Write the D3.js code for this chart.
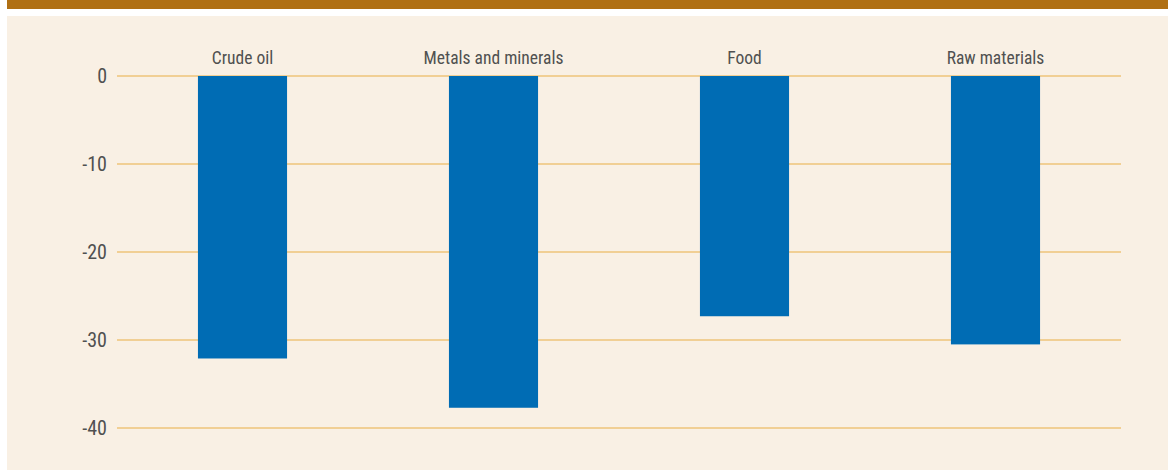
<!DOCTYPE html>
<html>
<head>
<meta charset="utf-8">
<script src="https://cdn.jsdelivr.net/npm/d3@7"></script>
<style>
  html, body { margin: 0; padding: 0; background: #ffffff; }
  svg { display: block; }
  text { font-family: "Liberation Sans Narrow", "Roboto Condensed", "Liberation Sans", sans-serif; fill: #505050; }
</style>
</head>
<body>
<script>
// Price change by commodity group, percent
const categories = ["Crude oil", "Metals and minerals", "Food", "Raw materials"];
const values = [-32.1, -37.7, -27.3, -30.5];
const tickValues = [0, -10, -20, -30, -40];
const tickLabels = ["0", "-10", "-20", "-30", "-40"];

const W = 1168, H = 470;
const svg = d3.select("body").append("svg").attr("width", W).attr("height", H);

// header band and panel background
svg.append("rect").attr("x", 7).attr("y", 0).attr("width", W - 7).attr("height", 9).attr("fill", "#b07014");
svg.append("rect").attr("x", 7).attr("y", 16).attr("width", W - 7).attr("height", H - 16).attr("fill", "#f9f0e4");

const x = d3.scaleBand().domain(categories).range([117, 1121]).paddingInner(0.645).paddingOuter(0.3225);
const y = d3.scaleLinear().domain([0, -40]).range([76, 428]);

// gridlines
svg.append("g").selectAll("line").data(tickValues).join("line")
  .attr("x1", 117).attr("x2", 1121)
  .attr("y1", d => y(d)).attr("y2", d => y(d))
  .attr("stroke", "#e9ad45").attr("stroke-width", 1.1);

// y tick labels
svg.append("g").selectAll("text").data(tickValues).join("text")
  .attr("x", 107).attr("y", d => y(d))
  .attr("dy", "0.35em").attr("text-anchor", "end")
  .style("font-size", "20px")
  .text((d, i) => tickLabels[i]);

// bars
svg.append("g").selectAll("rect").data(categories).join("rect")
  .attr("x", d => x(d)).attr("width", x.bandwidth())
  .attr("y", y(0))
  .attr("height", (d, i) => y(values[i]) - y(0))
  .attr("fill", "#006cb4");

// category labels above the zero line
svg.append("g").selectAll("text").data(categories).join("text")
  .attr("x", d => x(d) + x.bandwidth() / 2).attr("y", 64)
  .attr("text-anchor", "middle")
  .style("font-size", "17.5px")
  .text(d => d);
</script>
</body>
</html>
